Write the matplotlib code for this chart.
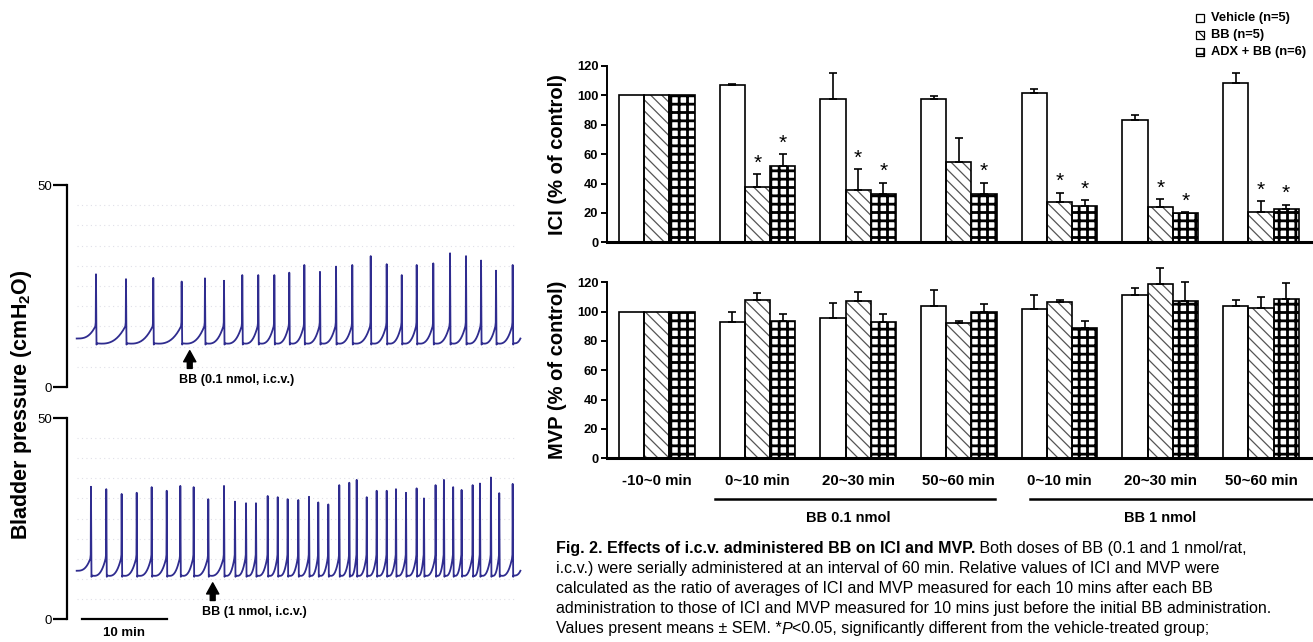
import matplotlib
matplotlib.use("Agg")
import matplotlib.pyplot as plt
from matplotlib.patches import Rectangle
from matplotlib.transforms import blended_transform_factory

# ---- bladder pressure traces ----
# peak times in min from start of trace, peak pressure in cmH2O
top_peak_t = [2.27, 5.80, 9.01, 12.35, 15.09, 17.33, 19.48, 21.36, 23.25, 25.01,
              26.78, 28.62, 30.51, 32.42, 34.59, 36.47, 38.24, 40.00, 41.95, 43.92,
              45.80, 47.57, 49.33, 51.29]
top_peak_p = [27.9, 26.7, 27.0, 26.1, 26.9, 26.3, 27.7, 27.7, 27.7, 28.3,
              30.2, 28.5, 29.8, 30.2, 32.4, 30.4, 27.7, 30.2, 30.6, 33.1,
              32.4, 31.3, 28.8, 30.2]
bot_peak_t = [1.68, 3.48, 5.29, 7.06, 8.82, 10.59, 12.19, 13.76, 15.48, 17.33,
              18.62, 19.92, 21.09, 22.47, 23.65, 24.82, 26.07, 27.33, 28.42, 29.60,
              30.89, 32.07, 32.94, 34.12, 35.29, 36.47, 37.56, 38.74, 39.99, 40.85,
              42.22, 43.20, 44.29, 45.28, 46.58, 47.44, 48.73, 49.71, 51.29]
bot_peak_p = [32.9, 32.3, 31.1, 31.4, 32.8, 31.9, 33.1, 32.8, 29.8, 33.1,
              29.2, 28.8, 28.8, 30.6, 30.3, 29.8, 29.6, 30.4, 29.0, 28.5,
              33.3, 33.9, 34.6, 30.3, 31.9, 31.9, 32.3, 31.4, 32.5, 30.0,
              33.3, 34.6, 32.8, 32.1, 33.3, 33.7, 35.2, 31.3, 33.6]
trace_end = 52.2
top_inject_t = 13.3
bot_inject_t = 16.0

# ---- bar chart data (% of control) ----
groups = ["-10~0 min", "0~10 min", "20~30 min", "50~60 min",
          "0~10 min", "20~30 min", "50~60 min"]
series = ["Vehicle (n=5)", "BB (n=5)", "ADX + BB (n=6)"]

ici_vehicle = [100, 107.1, 97.3, 97.8, 101.6, 83.0, 108.4]
ici_vehicle_err = [0, 0.7, 17.7, 2.0, 2.5, 3.4, 6.8]
ici_bb = [100, 37.9, 35.4, 54.9, 27.2, 23.8, 20.4]
ici_bb_err = [0, 8.6, 14.3, 15.9, 6.6, 5.7, 7.5]
ici_adx = [100, 51.9, 32.7, 32.7, 24.9, 19.7, 22.7]
ici_adx_err = [0, 8.2, 7.9, 7.9, 3.7, 0.7, 2.9]
ici_bb_sig = [0, 1, 1, 0, 1, 1, 1]
ici_adx_sig = [0, 1, 1, 1, 1, 1, 1]

mvp_vehicle = [100, 92.9, 95.9, 103.8, 101.8, 111.1, 103.8]
mvp_vehicle_err = [0, 6.6, 9.7, 10.9, 9.3, 5.2, 4.1]
mvp_bb = [100, 107.9, 107.2, 92.0, 106.3, 118.6, 102.7]
mvp_bb_err = [0, 4.6, 5.9, 1.6, 1.4, 11.3, 7.5]
mvp_adx = [100, 93.8, 92.9, 99.5, 89.0, 107.2, 108.6]
mvp_adx_err = [0, 4.4, 5.3, 5.5, 4.6, 12.8, 10.7]

caption_lines = [
    [("Fig. 2. Effects of i.c.v. administered BB on ICI and MVP.", "bold", "normal"),
     (" Both doses of BB (0.1 and 1 nmol/rat,", "normal", "normal")],
    [("i.c.v.) were serially administered at an interval of 60 min. Relative values of ICI and MVP were",
      "normal", "normal")],
    [("calculated as the ratio of averages of ICI and MVP measured for each 10 mins after each BB",
      "normal", "normal")],
    [("administration to those of ICI and MVP measured for 10 mins just before the initial BB administration.",
      "normal", "normal")],
    [("Values present means \u00b1 SEM. *", "normal", "normal"), ("P", "normal", "italic"),
     ("<0.05, significantly different from the vehicle-treated group;", "normal", "normal")],
]

plt.rcParams["font.family"] = ["Liberation Sans", "DejaVu Sans"]
plt.rcParams["hatch.linewidth"] = 1.0

W, H = 1313, 642
fig = plt.figure(figsize=(W / 100, H / 100), dpi=100)


def fig_rect(x0, y_top, x1, y_bot):
    return [x0 / W, 1 - y_bot / H, (x1 - x0) / W, (y_bot - y_top) / H]


def build_trace(peak_t, peak_p, t_end, low=10.8, pre=15.0):
    t, p = [], []
    prev = 0.0
    start_level = 12.0
    for k, (pt, pp) in enumerate(zip(peak_t, peak_p)):
        a = prev if k == 0 else prev + 0.12
        b = pt - 0.08
        lo = start_level if k == 0 else low
        n = 40
        for i in range(n + 1):
            u = i / n
            t.append(a + (b - a) * u)
            p.append(lo + (pre - lo) * u ** 3 - (0.6 * u * (1 - u) if k else 0))
        t += [pt - 0.03, pt, pt + 0.06]
        p += [pre + 1.0, pp, low - 0.3]
        prev = pt
    a = prev + 0.12
    for i in range(21):
        u = i / 20
        t.append(a + (t_end - a) * u)
        p.append(low + 1.2 * u ** 3)
    return t, p


def trace_axes(rect, peak_t, peak_p, inject_t, label, scale_bar=False):
    ax = fig.add_axes(rect)
    ax.set_xlim(-1.14, 52.74)
    ax.set_ylim(0, 50)
    for s in ["top", "right", "bottom"]:
        ax.spines[s].set_visible(False)
    ax.spines["left"].set_linewidth(1.6)
    ax.set_yticks([0, 50])
    ax.set_yticklabels(["0", "50"], fontsize=9.5)
    ax.tick_params(axis="y", direction="out", length=10, width=1.6, pad=1)
    ax.set_xticks([])
    ax.hlines(range(5, 50, 5), 0, 51.5, colors="#e0e0e8", linestyles=(0, (1, 3)), lw=0.8)
    t, p = build_trace(peak_t, peak_p, trace_end)
    ax.plot(t, p, color="#2f2c8f", lw=1.3)
    ax.annotate("", xy=(inject_t, 9.0), xytext=(inject_t, 4.6),
                arrowprops=dict(arrowstyle="simple,head_length=0.5,head_width=0.55,tail_width=0.22",
                                color="black", mutation_scale=16, shrinkA=0, shrinkB=0))
    ax.text(inject_t - 1.3, 1.7, label, fontsize=9, fontweight="bold", va="center", ha="left")
    if scale_bar:
        ax.plot([0.62, 10.62], [0, 0], color="black", lw=1.6, clip_on=False)
        ax.text(5.6, -3.5, "10 min", fontsize=9.5, fontweight="bold", ha="center", va="center")
    return ax


trace_axes(fig_rect(67, 185, 525, 387), top_peak_t, top_peak_p, top_inject_t,
           "BB (0.1 nmol, i.c.v.)")
trace_axes(fig_rect(67, 418, 525, 619), bot_peak_t, bot_peak_p, bot_inject_t,
           "BB (1 nmol, i.c.v.)", scale_bar=True)
fig.text(22 / W, 1 - 405 / H, "Bladder pressure (cmH$_\\mathregular{2}$O)", rotation=90,
         fontsize=15.5, fontweight="bold", ha="center", va="center")

hatches = [None, "\\\\\\", "++"]
hatch_colors = ["black", "#555555", "black"]
hatch_widths = [1.0, 0.9, 2.0]


def bar_panel(rect, vals, errs, ylabel, sig=None, xlabels=False):
    ax = fig.add_axes(rect)
    x = list(range(len(groups)))
    w = 0.25
    for j, (v, e) in enumerate(zip(vals, errs)):
        xs = [xi + (j - 1) * w for xi in x]
        with plt.rc_context({"hatch.linewidth": hatch_widths[j]}):
            ax.bar(xs, v, w, color="white", linewidth=0, hatch=hatches[j],
                   edgecolor=hatch_colors[j], zorder=2)
        ax.bar(xs, v, w, color="none", edgecolor="black", linewidth=1.2, zorder=3)
        ex = [xx for xx, ee in zip(xs, e) if ee > 0]
        ey = [vv for vv, ee in zip(v, e) if ee > 0]
        ee_ = [ee for ee in e if ee > 0]
        ax.errorbar(ex, ey, yerr=[[0] * len(ee_), ee_], fmt="none", ecolor="black",
                    elinewidth=1.2, capsize=3.2, capthick=1.2, zorder=4, clip_on=False)
        if sig is not None and sig[j] is not None:
            for xx, vv, ee, s in zip(xs, v, e, sig[j]):
                if s:
                    ax.annotate("*", xy=(xx, vv + ee), xytext=(0, 1), textcoords="offset points",
                                ha="center", va="bottom", fontsize=15)
    ax.set_xlim(-0.497, 6.507)
    ax.set_ylim(0, 120)
    ax.set_yticks(range(0, 121, 20))
    for lab in ax.get_yticklabels():
        lab.set_fontweight("bold")
        lab.set_fontsize(9.3)
    ax.tick_params(axis="y", direction="out", length=4, width=1.4, pad=2)
    ax.spines["top"].set_visible(False)
    ax.spines["right"].set_visible(False)
    ax.spines["left"].set_linewidth(1.4)
    ax.spines["bottom"].set_linewidth(2.2)
    ax.set_ylabel(ylabel, fontsize=14.5, fontweight="bold")
    ax.yaxis.set_label_coords(-0.056, 0.5)
    if xlabels:
        ax.set_xticks(x)
        ax.set_xticklabels(groups, fontsize=10.8, fontweight="bold")
        ax.tick_params(axis="x", length=0, pad=11)
    else:
        ax.set_xticks([])
    return ax


ax_ici = bar_panel(fig_rect(606.7, 66, 1312, 242.3),
                   [ici_vehicle, ici_bb, ici_adx],
                   [ici_vehicle_err, ici_bb_err, ici_adx_err],
                   "ICI (% of control)", sig=[None, ici_bb_sig, ici_adx_sig])
ax_mvp = bar_panel(fig_rect(606.7, 282.3, 1312, 458.3),
                   [mvp_vehicle, mvp_bb, mvp_adx],
                   [mvp_vehicle_err, mvp_bb_err, mvp_adx_err],
                   "MVP (% of control)", xlabels=True)

# dose brackets under the time groups
tr = blended_transform_factory(ax_mvp.transData, ax_mvp.transAxes)
ax_mvp.plot([0.58, 3.36], [-0.233, -0.233], color="black", lw=1.8, transform=tr, clip_on=False)
ax_mvp.plot([3.71, 6.52], [-0.233, -0.233], color="black", lw=1.8, transform=tr, clip_on=False)
ax_mvp.text(1.9, -0.34, "BB 0.1 nmol", transform=tr, ha="center", va="center",
            fontsize=10.5, fontweight="bold")
ax_mvp.text(5.0, -0.34, "BB 1 nmol", transform=tr, ha="center", va="center",
            fontsize=10.5, fontweight="bold")

# legend drawn as small patterned squares
for i, name in enumerate(series):
    yc = 18 + 17 * i
    with plt.rc_context({"hatch.linewidth": 0.8 if i < 2 else 1.2}):
        fig.add_artist(Rectangle((1196 / W, 1 - (yc + 4) / H), 8 / W, 8 / H,
                                 transform=fig.transFigure, facecolor="white",
                                 edgecolor="black", hatch=hatches[i], linewidth=0.9))
    fig.text(1211 / W, 1 - yc / H, name, fontsize=9.3, fontweight="bold",
             ha="left", va="center")

# caption with mixed styles, runs placed one after another
renderer = fig.canvas.get_renderer()
for i, runs in enumerate(caption_lines):
    x = 556
    y = 549 + 20 * i
    for txt, weight, style in runs:
        t = fig.text(x / W, 1 - y / H, txt, fontsize=11.5, fontweight=weight, fontstyle=style,
                     ha="left", va="center")
        x += t.get_window_extent(renderer).width

fig.savefig("out.png", dpi=100)
